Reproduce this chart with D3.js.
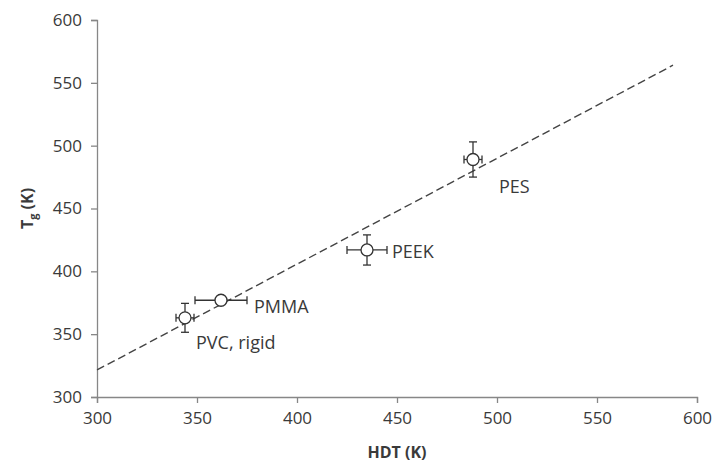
<!DOCTYPE html>
<html>
<head>
<meta charset="utf-8">
<script src="https://cdn.jsdelivr.net/npm/d3@7"></script>
<style>
  body { margin: 0; background: #fff; }
  svg text { font-family: "Open Sans", "Liberation Sans", sans-serif; }
</style>
</head>
<body>
<svg id="chart" width="715" height="464"></svg>
<script>
// data
var materials = ["PVC, rigid", "PMMA", "PEEK", "PES"];
var hdt = [344, 362, 435, 488];
var hdtErr = [4.5, 13, 10, 4.5];
var tg = [363, 377, 417, 489];
var tgErr = [11.5, 0, 12, 14];
var xTicks = [300, 350, 400, 450, 500, 550, 600];
var yTicks = [300, 350, 400, 450, 500, 550, 600];
// trend line ends
var trendX = [300, 588];
var trendY = [321.5, 564];

var margin = {top: 20, right: 18, bottom: 67, left: 97},
  w = 715 - margin.left - margin.right,
  h = 464 - margin.top - margin.bottom;

var svg = d3.select('#chart');
var g = svg.append('g').attr('transform', 'translate(' + margin.left + ',' + margin.top + ')');

var x = d3.scaleLinear().domain([300, 600]).range([0, 600]);
var y = d3.scaleLinear().domain([300, 600]).range([h, 0]);

var axisColor = '#878787', textColor = '#3a3a3a';

// axes
var xAxis = g.append('g').attr('transform', 'translate(0,' + h + ')')
  .call(d3.axisBottom(x).tickValues(xTicks).tickSize(6).tickPadding(9));
var yAxis = g.append('g')
  .call(d3.axisLeft(y).tickValues(yTicks).tickSize(6).tickPadding(9));

[xAxis, yAxis].forEach(function(a) {
  a.select('.domain').attr('stroke', axisColor).attr('stroke-width', 1.3);
  a.selectAll('.tick line').attr('stroke', axisColor).attr('stroke-width', 1.3);
  a.selectAll('.tick text').attr('fill', textColor).style('font-size', '17px');
});

// dashed trend line
g.append('line')
  .attr('x1', x(trendX[0])).attr('y1', y(trendY[0]))
  .attr('x2', x(trendX[1])).attr('y2', y(trendY[1]))
  .attr('stroke', '#444').attr('stroke-width', 1.4)
  .attr('stroke-dasharray', '8,4');

var pts = materials.map(function(m, i) {
  return {name: m, x: hdt[i], xe: hdtErr[i], y: tg[i], ye: tgErr[i]};
});

var cap = 4;
var eb = g.append('g').attr('stroke', '#333').attr('stroke-width', 1.3);
pts.forEach(function(d) {
  if (d.xe > 0) {
    eb.append('line').attr('x1', x(d.x - d.xe)).attr('x2', x(d.x + d.xe))
      .attr('y1', y(d.y)).attr('y2', y(d.y));
    [d.x - d.xe, d.x + d.xe].forEach(function(v) {
      eb.append('line').attr('x1', x(v)).attr('x2', x(v))
        .attr('y1', y(d.y) - cap).attr('y2', y(d.y) + cap);
    });
  }
  if (d.ye > 0) {
    eb.append('line').attr('x1', x(d.x)).attr('x2', x(d.x))
      .attr('y1', y(d.y - d.ye)).attr('y2', y(d.y + d.ye));
    [d.y - d.ye, d.y + d.ye].forEach(function(v) {
      eb.append('line').attr('x1', x(d.x) - cap).attr('x2', x(d.x) + cap)
        .attr('y1', y(v)).attr('y2', y(v));
    });
  }
});

// markers
g.selectAll('circle.pt').data(pts).enter().append('circle')
  .attr('class', 'pt')
  .attr('cx', function(d) { return x(d.x); })
  .attr('cy', function(d) { return y(d.y); })
  .attr('r', 6)
  .attr('fill', '#fff').attr('stroke', '#333').attr('stroke-width', 1.3);

// data labels
var labelOffset = {
  "PVC, rigid": [11, 25],
  "PMMA": [33, 6],
  "PEEK": [25, 2],
  "PES": [26, 27]
};
g.selectAll('text.lbl').data(pts).enter().append('text')
  .attr('class', 'lbl')
  .attr('x', function(d) { return x(d.x) + labelOffset[d.name][0]; })
  .attr('y', function(d) { return y(d.y) + labelOffset[d.name][1]; })
  .attr('dy', '0.35em')
  .attr('fill', textColor)
  .style('font-size', '18px')
  .text(function(d) { return d.name; });

// axis titles
svg.append('text')
  .attr('x', margin.left + x(450)).attr('y', 458)
  .attr('text-anchor', 'middle')
  .attr('fill', textColor)
  .style('font-size', '16px').style('font-weight', 'bold')
  .text('HDT (K)');

var yt = svg.append('text')
  .attr('transform', 'translate(33,' + (margin.top + y(450)) + ') rotate(-90)')
  .attr('text-anchor', 'middle')
  .attr('fill', textColor)
  .style('font-size', '16px').style('font-weight', 'bold');
yt.append('tspan').text('T');
yt.append('tspan').attr('dy', 4).style('font-size', '11px').text('g');
yt.append('tspan').attr('dy', -4).text(' (K)');
</script>
</body>
</html>
